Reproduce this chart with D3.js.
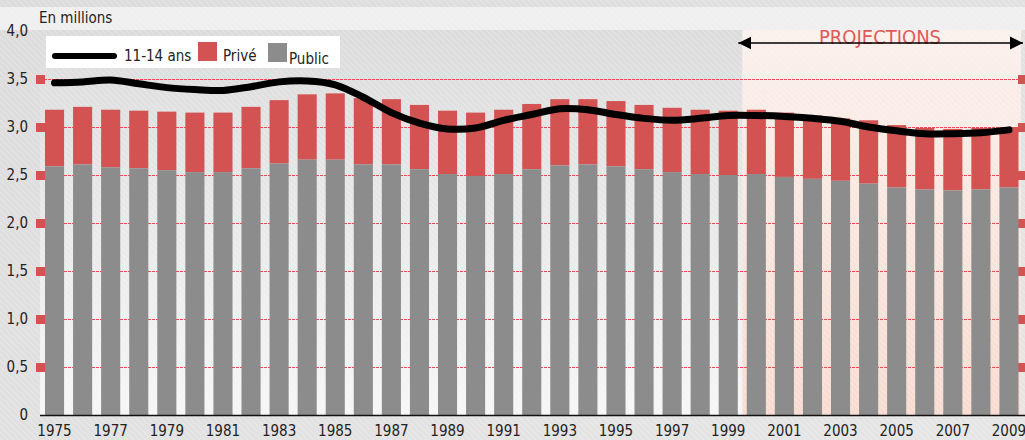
<!DOCTYPE html>
<meta charset="utf-8">
<title>11-14 ans : public et privé</title>
<style>
body { margin: 0; }
svg { display: block; }
text { font-family: "Liberation Sans Narrow", "DejaVu Sans Condensed", sans-serif; fill: #222; }
</style>
<svg width="1025" height="440"></svg>
<script src="https://d3js.org/d3.v7.min.js"></script>
<script>

// data (millions)
var years = d3.range(1975, 2010);
var publicVals = [2.59, 2.61, 2.58, 2.57, 2.55, 2.53, 2.53, 2.57, 2.62, 2.66, 2.66, 2.61, 2.61, 2.56, 2.51, 2.49, 2.51, 2.56, 2.60, 2.61, 2.59, 2.56, 2.53, 2.51, 2.50, 2.51, 2.48, 2.46, 2.44, 2.41, 2.37, 2.35, 2.34, 2.35, 2.37];
var totalVals = [3.18, 3.21, 3.18, 3.17, 3.16, 3.15, 3.15, 3.21, 3.28, 3.34, 3.35, 3.30, 3.29, 3.23, 3.17, 3.15, 3.18, 3.24, 3.29, 3.29, 3.27, 3.23, 3.20, 3.18, 3.17, 3.18, 3.15, 3.12, 3.09, 3.07, 3.02, 2.99, 2.98, 2.99, 3.00];
var ageVals = [3.46, 3.47, 3.49, 3.45, 3.41, 3.39, 3.38, 3.42, 3.47, 3.48, 3.44, 3.31, 3.15, 3.04, 2.98, 2.99, 3.07, 3.13, 3.19, 3.18, 3.13, 3.09, 3.07, 3.09, 3.12, 3.12, 3.11, 3.09, 3.06, 3.00, 2.96, 2.93, 2.93, 2.94, 2.97];
var yTicks = [0, 0.5, 1, 1.5, 2, 2.5, 3, 3.5, 4];
var xLabels = years.filter(function(d) { return (d - 1975) % 2 == 0; });
var projStart = 2000;

var svg = d3.select("svg"),
    width = +svg.attr("width"),
    height = +svg.attr("height");

var plotLeft = 40, plotRight = 1021, plotTop = 31, plotBottom = 415;

var x = d3.scaleBand()
    .domain(years)
    .range([40.5, 1023])
    .paddingInner(0.32)
    .paddingOuter(0.16);

var y = d3.scaleLinear()
    .domain([0, 4])
    .range([plotBottom, plotTop]);

var fmt = function(d) { return d == 0 ? "0" : d3.format(".1f")(d).replace(".", ","); };

var defs = svg.append("defs");

var outerGrad = defs.append("linearGradient").attr("id", "outer")
    .attr("x1", 0).attr("y1", 0).attr("x2", 1).attr("y2", 1);
outerGrad.append("stop").attr("offset", "0%").attr("stop-color", "#dcdcdc");
outerGrad.append("stop").attr("offset", "100%").attr("stop-color", "#e6e6e6");

var plotGrad = defs.append("linearGradient").attr("id", "plotbg")
    .attr("x1", 0).attr("y1", 0).attr("x2", 0).attr("y2", 1);
plotGrad.append("stop").attr("offset", "0%").attr("stop-color", "#dcdcdc");
plotGrad.append("stop").attr("offset", "100%").attr("stop-color", "#f6f6f6");

var projGrad = defs.append("linearGradient").attr("id", "projbg")
    .attr("x1", 0).attr("y1", 0).attr("x2", 0).attr("y2", 1);
projGrad.append("stop").attr("offset", "0%").attr("stop-color", "#faf0ec");
projGrad.append("stop").attr("offset", "100%").attr("stop-color", "#f8dcd2");

var hatch = defs.append("pattern").attr("id", "hatch")
    .attr("patternUnits", "userSpaceOnUse")
    .attr("width", 6).attr("height", 6);
hatch.append("path")
    .attr("d", "M-1,-1L7,7M-4,2L4,10M2,-4L10,4")
    .attr("stroke", "#fff")
    .attr("stroke-opacity", 0.25)
    .attr("stroke-width", 1);

// backgrounds
svg.append("rect").attr("width", width).attr("height", height).attr("fill", "url(#outer)");
svg.append("rect").attr("x", 0).attr("y", 7).attr("width", width).attr("height", 23).attr("fill", "#efefef");
svg.append("rect").attr("x", plotLeft).attr("y", 30).attr("width", plotRight - plotLeft).attr("height", plotBottom - 30)
    .attr("fill", "url(#plotbg)");

var projX = x(projStart) - x.step() * x.paddingInner() / 2;
svg.append("rect").attr("x", projX).attr("y", 30).attr("width", plotRight - projX).attr("height", plotBottom - 30)
    .attr("fill", "url(#projbg)");

svg.append("rect").attr("width", width).attr("height", height).attr("fill", "url(#hatch)");

// gridlines (red dotted)
var gridTicks = yTicks.filter(function(d) { return d > 0 && d < 4; });
svg.append("g")
  .selectAll("line")
  .data(gridTicks)
  .enter().append("line")
    .attr("x1", plotLeft).attr("x2", plotRight)
    .attr("y1", function(d) { return Math.round(y(d)) + 0.5; })
    .attr("y2", function(d) { return Math.round(y(d)) + 0.5; })
    .attr("stroke", "#ec4a50")
    .attr("stroke-width", 1.2)
    .attr("stroke-dasharray", "3,1");

// side markers
svg.append("g")
  .selectAll("rect")
  .data(gridTicks)
  .enter().append("rect")
    .attr("x", 36).attr("width", 9).attr("height", 9)
    .attr("y", function(d) { return y(d) - 4; })
    .attr("fill", "#d35252");
svg.append("g")
  .selectAll("rect")
  .data(gridTicks)
  .enter().append("rect")
    .attr("x", 1018).attr("width", 9).attr("height", 9)
    .attr("y", function(d) { return y(d) - 4; })
    .attr("fill", "#d35252");

// bars
var bars = svg.append("g");
bars.selectAll(".prive")
  .data(years)
  .enter().append("rect")
    .attr("class", "prive")
    .attr("x", function(d) { return x(d); })
    .attr("width", x.bandwidth())
    .attr("y", function(d, i) { return y(totalVals[i]); })
    .attr("height", function(d, i) { return y(publicVals[i]) - y(totalVals[i]); })
    .attr("fill", "#d35252");
bars.selectAll(".public")
  .data(years)
  .enter().append("rect")
    .attr("class", "public")
    .attr("x", function(d) { return x(d); })
    .attr("width", x.bandwidth())
    .attr("y", function(d, i) { return y(publicVals[i]); })
    .attr("height", function(d, i) { return y(0) - y(publicVals[i]); })
    .attr("fill", "#8c8c8c");

// 11-14 ans line
var line = d3.line()
    .x(function(d, i) { return x(years[i]) + x.bandwidth() / 2; })
    .y(function(d) { return y(d); })
    .curve(d3.curveCatmullRom.alpha(0.5));

svg.append("path")
    .datum(ageVals)
    .attr("d", line)
    .attr("fill", "none")
    .attr("stroke", "#000")
    .attr("stroke-width", 7)
    .attr("stroke-linecap", "round");

// axis line
svg.append("line")
    .attr("x1", plotLeft).attr("x2", 1025)
    .attr("y1", plotBottom + 0.5).attr("y2", plotBottom + 0.5)
    .attr("stroke", "#111").attr("stroke-width", 1.5);

// y labels
svg.append("g")
  .selectAll("text")
  .data(yTicks)
  .enter().append("text")
    .attr("x", 28)
    .attr("y", function(d) { return y(d); })
    .attr("dy", "0.35em")
    .attr("text-anchor", "end")
    .style("font-size", "15px")
    .text(fmt);

// x labels
svg.append("g")
  .selectAll("text")
  .data(xLabels)
  .enter().append("text")
    .attr("x", function(d) { return x(d) + x.bandwidth() / 2; })
    .attr("y", 436)
    .attr("text-anchor", "middle")
    .style("font-size", "15px")
    .text(function(d) { return d; });

svg.append("text")
    .attr("x", 39).attr("y", 23)
    .style("font-size", "15px")
    .text("En millions");

// legend
var legend = svg.append("g");
legend.append("rect").attr("x", 46).attr("y", 36).attr("width", 294).attr("height", 32).attr("fill", "#fff");
legend.append("line").attr("x1", 55).attr("x2", 114).attr("y1", 56).attr("y2", 56)
    .attr("stroke", "#000").attr("stroke-width", 6).attr("stroke-linecap", "round");
legend.append("text").attr("x", 124).attr("y", 61).style("font-size", "15px").text("11-14 ans");
legend.append("rect").attr("x", 198).attr("y", 42).attr("width", 19).attr("height", 19).attr("fill", "#d35252");
legend.append("text").attr("x", 223).attr("y", 61).style("font-size", "15px").text("Privé");
legend.append("rect").attr("x", 268).attr("y", 43).attr("width", 19).attr("height", 19).attr("fill", "#8c8c8c");
legend.append("text").attr("x", 289).attr("y", 64).style("font-size", "15px").text("Public");

// projections arrow
defs.append("marker").attr("id", "head")
    .attr("viewBox", "0 0 10 10").attr("refX", 10).attr("refY", 5)
    .attr("markerWidth", 13).attr("markerHeight", 14)
    .attr("markerUnits", "userSpaceOnUse")
    .attr("orient", "auto-start-reverse")
  .append("path").attr("d", "M0,0L10,5L0,10Z").attr("fill", "#000");

svg.append("text")
    .attr("x", 880)
    .attr("y", 44)
    .attr("text-anchor", "middle")
    .style("font-size", "20px")
    .style("fill", "#e05a5a")
    .text("PROJECTIONS");

svg.append("line")
    .attr("x1", projX - 4).attr("x2", 1023)
    .attr("y1", 43).attr("y2", 43)
    .attr("stroke", "#000").attr("stroke-width", 1.5)
    .attr("marker-start", "url(#head)")
    .attr("marker-end", "url(#head)");

</script>
